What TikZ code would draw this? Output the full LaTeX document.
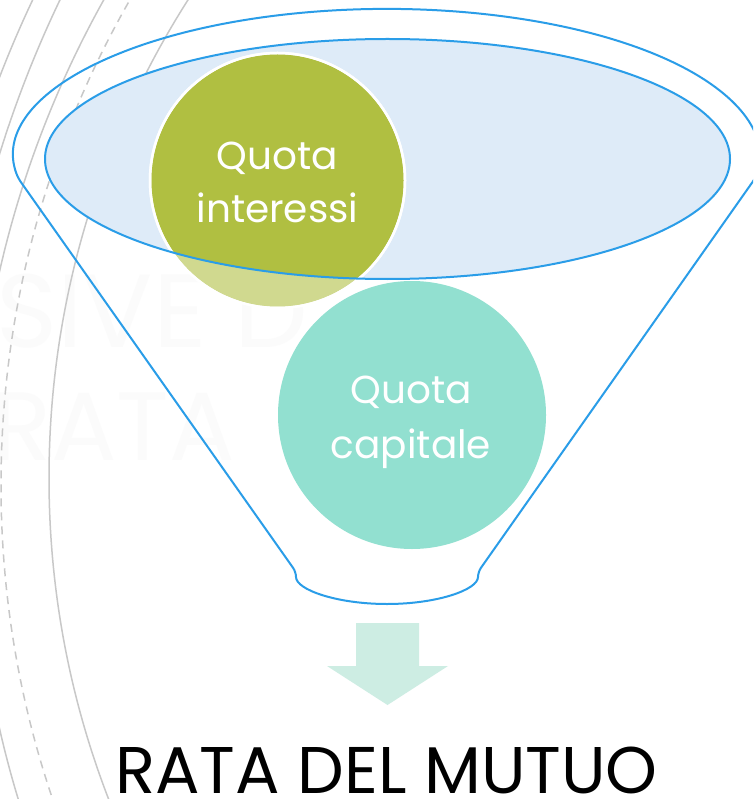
\documentclass[tikz,border=0pt]{standalone}
\usepackage{fontspec}
\setmainfont{Poppins}
\definecolor{fblue}{HTML}{2A9DE8}
\definecolor{efill}{HTML}{DEEBF8}
\definecolor{gdark}{HTML}{B0BF41}
\definecolor{glight}{HTML}{D0D98F}
\definecolor{teal}{HTML}{92E0D0}
\definecolor{arrowc}{HTML}{CDEDE3}
\definecolor{arcgray}{HTML}{C8C8C8}
\definecolor{ghost}{HTML}{FBFBFB}
\tikzset{
  bgarc/.style={draw=arcgray, line width=1.5pt},
  funnelline/.style={draw=fblue, line width=2pt},
  bubble/.style={circle, inner sep=0pt, draw=white, line width=2.5pt},
  bubbletext/.style={text=white, font=\fontsize{39}{46}\selectfont, anchor=base, inner sep=0pt},
  ghosttext/.style={text=ghost, anchor=base west, inner sep=0pt}
}
\begin{document}
\begin{tikzpicture}[x=1pt,y=-1pt]
\useasboundingbox (0,0) rectangle (753,799);
\fill[white] (0,0) rectangle (753,799);
\begin{scope}
\clip (0,0) rectangle (753,799);
% faint background title text
\node[ghosttext, font=\fontsize{104}{110}\selectfont] (gh1) at (-4,347) {SIVE D};
\node[ghosttext, font=\fontsize{97}{100}\selectfont] (gh2) at (-8,460) {RATA};
% background arcs (large circles centred off the picture)
\draw[bgarc] (1070,490) circle[radius=1147pt];
\draw[bgarc] (1084,490) circle[radius=1135pt];
\draw[bgarc] (1001,500) circle[radius=1027pt];
\draw[bgarc, dash pattern=on 8pt off 6pt] (977,485) circle[radius=976pt];
\draw[bgarc] (940,478) circle[radius=891pt];
% funnel outline
\draw[funnelline, rounded corners=5pt] (18,178) arc[start angle=188.2, end angle=-8.2, x radius=372.5pt, y radius=148pt] -- (478,572) arc[start angle=0, end angle=-180, x radius=91pt, y radius=32pt] -- cycle;
% inner ellipse fill
\fill[efill] (387.5,159) ellipse[x radius=342.5pt, y radius=120pt];
\end{scope}
% bubbles
\node[bubble, fill=glight, minimum size=255pt] (gc) at (277.5,180.5) {};
\begin{scope}
  \clip (387.5,159) ellipse[x radius=342.5pt, y radius=120pt];
  \fill[gdark] (277.5,180.5) circle[radius=126pt];
\end{scope}
\draw[white, line width=2.5pt] (277.5,180.5) circle[radius=127.5pt];
\node[bubble, fill=teal, draw=none, minimum size=268pt] (tc) at (412,415) {};
% inner ellipse outline
\draw[funnelline] (387.5,159) ellipse[x radius=342.5pt, y radius=120pt];
% bubble texts
\node[bubbletext] (gt1) at (277,170) {Quota};
\node[bubbletext] (gt2) at (277.5,223) {interessi};
\node[bubbletext] (tt1) at (411,403) {Quota};
\node[bubbletext] (tt2) at (411,458) {capitale};
% arrow
\fill[arrowc] (356,623) -- (419,623) -- (419,666) -- (448,666) -- (387.5,705) -- (327,666) -- (356,666) -- cycle;
% title
\node[anchor=base, inner sep=0pt, text depth=0pt, font=\fontsize{66}{70}\selectfont] (title) at (386.5,793) {RATA DEL MUTUO};
\end{tikzpicture}
\end{document}
